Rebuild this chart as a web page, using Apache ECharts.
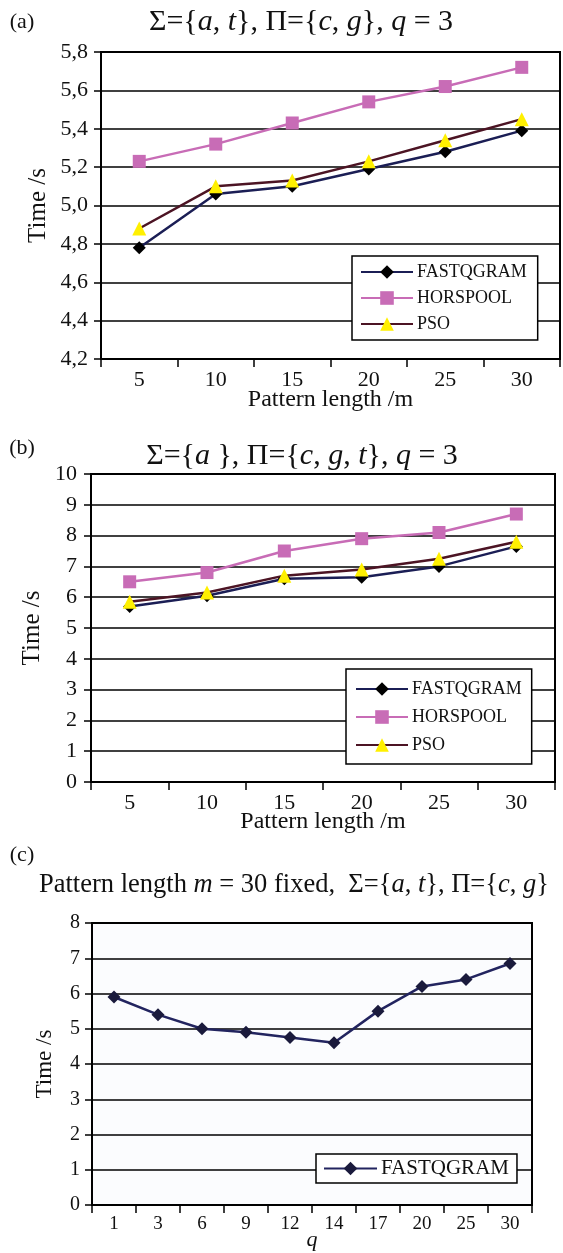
<!DOCTYPE html>
<html>
<head>
<meta charset="utf-8">
<script src="https://cdn.jsdelivr.net/npm/echarts@6.0.0/dist/echarts.min.js"></script>
<style>
  html, body { margin: 0; padding: 0; background: #fff; }
  .chart { position: absolute; left: 0; width: 563px; }
</style>
</head>
<body>
<div class="chart chart1" style="top:0;height:420px"></div>
<div class="chart chart2" style="top:420px;height:420px"></div>
<div class="chart chart3" style="top:840px;height:413px"></div>
<script>
// data
const lengths = ['5', '10', '15', '20', '25', '30'];
const fastA = [4.78, 5.06, 5.10, 5.19, 5.28, 5.39];
const horsA = [5.23, 5.32, 5.43, 5.54, 5.62, 5.72];
const psoA = [4.88, 5.10, 5.13, 5.23, 5.34, 5.45];
const fastB = [5.7, 6.05, 6.6, 6.65, 7.0, 7.65];
const horsB = [6.5, 6.8, 7.5, 7.9, 8.1, 8.7];
const psoB = [5.85, 6.15, 6.7, 6.9, 7.25, 7.8];
const qValues = ['1', '3', '6', '9', '12', '14', '17', '20', '25', '30'];
const fastC = [5.9, 5.4, 5.0, 4.9, 4.75, 4.6, 5.5, 6.2, 6.4, 6.85];
const legendNames = ['FASTQGRAM', 'HORSPOOL', 'PSO'];

const serif = '"Liberation Serif", "Times New Roman", serif';
const ink = '#111';

function xAxisOf(data, name, labelSize, nameSize, nameGap, italicName) {
    return {
        type: 'category',
        data: data,
        boundaryGap: true,
        axisLine: { lineStyle: { color: '#000', width: 2 } },
        axisTick: { show: true, length: 8, lineStyle: { color: '#000', width: 1.5 } },
        axisLabel: { interval: 0, color: ink, fontFamily: serif, fontSize: labelSize, margin: 10 },
        splitLine: { show: false },
        name: name,
        nameLocation: 'middle',
        nameGap: nameGap,
        nameMoveOverlap: false,
        nameTextStyle: { color: ink, fontFamily: serif, fontSize: nameSize, fontStyle: italicName ? 'italic' : 'normal' }
    };
}

function yAxisOf(min, max, interval, labelSize, margin, nameSize, nameGap, formatter) {
    return {
        type: 'value',
        min: min,
        max: max,
        interval: interval,
        axisLine: { show: true, lineStyle: { color: '#000', width: 2 } },
        axisTick: { show: true, length: 7, lineStyle: { color: '#000', width: 1.5 } },
        axisLabel: { color: ink, fontFamily: serif, fontSize: labelSize, margin: margin, formatter: formatter },
        splitLine: { show: true, lineStyle: { color: '#000', width: 1.5 } },
        name: 'Time /s',
        nameLocation: 'middle',
        nameGap: nameGap,
        nameMoveOverlap: false,
        nameTextStyle: { color: ink, fontFamily: serif, fontSize: nameSize }
    };
}

function lineOf(name, data, symbol, size, lineColor, markColor) {
    return {
        name: name,
        type: 'line',
        data: data,
        symbol: symbol,
        symbolSize: size,
        showAllSymbol: true,
        lineStyle: { color: lineColor, width: 2.5 },
        itemStyle: { color: markColor },
        emphasis: { disabled: true }
    };
}

function legendOf(left, top, padding, gap, fontSize, itemWidth, names) {
    return {
        orient: 'vertical',
        left: left,
        top: top,
        padding: padding,
        itemGap: gap,
        itemWidth: itemWidth,
        itemHeight: 17,
        borderColor: '#000',
        borderWidth: 1.5,
        borderRadius: 0,
        backgroundColor: '#fff',
        textStyle: { color: ink, fontFamily: serif, fontSize: fontSize, padding: [0, 0, 0, -1] },
        data: names
    };
}

function textOf(x, y, text, size) {
    return {
        type: 'text',
        x: x,
        y: y,
        style: {
            text: text,
            fill: ink,
            fontFamily: serif,
            fontSize: size,
            align: 'center',
            verticalAlign: 'middle',
            rich: { i: { fontStyle: 'italic', fontFamily: serif, fontSize: size, fill: ink } }
        }
    };
}

const commaFmt = function (v) { return v.toFixed(1).replace('.', ','); };

// (a)
let chart1 = echarts.init(document.getElementsByClassName('chart1')[0]);
let option1 = {
    animation: false,
    backgroundColor: '#fff',
    grid: { left: 101, top: 52, width: 459, height: 307, show: true, borderColor: '#000', borderWidth: 2, outerBoundsMode: 'none' },
    xAxis: xAxisOf(lengths, 'Pattern length /m', 22, 24, 29, false),
    yAxis: yAxisOf(4.2, 5.8, 0.2, 22, 13, 25, 50, commaFmt),
    legend: legendOf(352, 256, [7, 11, 7, 8], 8, 18, 52, legendNames),
    series: [
        lineOf('FASTQGRAM', fastA, 'diamond', 13, '#1b1e55', '#000'),
        lineOf('HORSPOOL', horsA, 'rect', 13, '#c86cb6', '#c86cb6'),
        lineOf('PSO', psoA, 'triangle', 14, '#4c1424', '#fff000')
    ],
    graphic: [
        textOf(22, 22, '(a)', 22),
        textOf(301, 22, 'Σ={{i|a}, {i|t}}, Π={{i|c}, {i|g}}, {i|q} = 3', 30)
    ]
};
chart1.setOption(option1);

// (b)
let chart2 = echarts.init(document.getElementsByClassName('chart2')[0]);
let option2 = {
    animation: false,
    backgroundColor: '#fff',
    grid: { left: 91, top: 54, width: 464, height: 308, show: true, borderColor: '#000', borderWidth: 2, outerBoundsMode: 'none' },
    xAxis: xAxisOf(lengths, 'Pattern length /m', 22, 24, 28, false),
    yAxis: yAxisOf(0, 10, 1, 22, 14, 25, 46),
    legend: legendOf(346, 249, [11, 10, 10, 9], 10, 18, 52, legendNames),
    series: [
        lineOf('FASTQGRAM', fastB, 'diamond', 13, '#1b1e55', '#000'),
        lineOf('HORSPOOL', horsB, 'rect', 13, '#c86cb6', '#c86cb6'),
        lineOf('PSO', psoB, 'triangle', 14, '#4c1424', '#fff000')
    ],
    graphic: [
        textOf(22, 28, '(b)', 22),
        textOf(302, 36, 'Σ={{i|a} }, Π={{i|c}, {i|g}, {i|t}}, {i|q} = 3', 30)
    ]
};
chart2.setOption(option2);

// (c)
let chart3 = echarts.init(document.getElementsByClassName('chart3')[0]);
let option3 = {
    animation: false,
    backgroundColor: '#fff',
    grid: { left: 92, top: 83, width: 440, height: 282, show: true, borderColor: '#000', borderWidth: 2, backgroundColor: '#fbfcfe', outerBoundsMode: 'none' },
    xAxis: xAxisOf(qValues, 'q', 19, 22, 24, true),
    yAxis: yAxisOf(0, 8, 1, 20, 12, 23, 36),
    legend: legendOf(316, 314, [4, 8, 4, 7], 8, 21, 53, ['FASTQGRAM']),
    series: [
        lineOf('FASTQGRAM', fastC, 'diamond', 13, '#22245f', '#1a1a3c')
    ],
    graphic: [
        textOf(22, 15, '(c)', 22),
        textOf(294, 45, 'Pattern length {i|m} = 30 fixed,  Σ={{i|a}, {i|t}}, Π={{i|c}, {i|g}}', 26.5)
    ]
};
chart3.setOption(option3);
</script>
</body>
</html>
